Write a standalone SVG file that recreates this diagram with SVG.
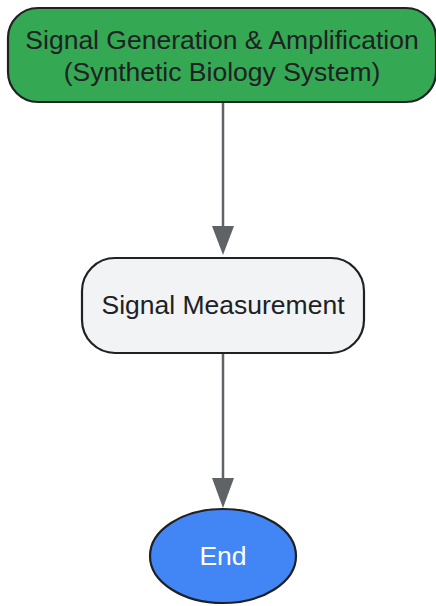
<svg xmlns="http://www.w3.org/2000/svg" width="436" height="606" viewBox="0 0 436 606">
<style>
.node{stroke:#202124;stroke-width:2.2}
.lbl{font-family:"Liberation Sans",Arial,sans-serif;font-size:26.5px;fill:#202124;text-anchor:middle}
.edge{stroke:#5f6368;stroke-width:2.5;fill:none}
</style>
<rect width="436" height="606" fill="#ffffff"/>
<g id="connectors">
<path class="edge" d="M223,103 L223,226"/>
<path d="M212,226 L234,226 L223,255 z" fill="#5f6368"/>
<path class="edge" d="M223,354 L223,478"/>
<path d="M212,478 L234,478 L223,508 z" fill="#5f6368"/>
</g>
<g id="n1">
<rect class="node" x="8" y="8" width="428" height="94" rx="30" fill="#34a853"/>
<text class="lbl" x="222" y="49">Signal Generation &amp; Amplification</text>
<text class="lbl" x="222" y="81">(Synthetic Biology System)</text>
</g>
<g id="n2">
<rect class="node" x="82" y="258" width="282" height="95" rx="33" fill="#f1f3f4"/>
<text class="lbl" x="223" y="314">Signal Measurement</text>
</g>
<g id="n3">
<ellipse class="node" cx="223" cy="556" rx="73" ry="47" fill="#4285f4"/>
<text class="lbl" x="223" y="565" style="fill:#ffffff">End</text>
</g>
</svg>
